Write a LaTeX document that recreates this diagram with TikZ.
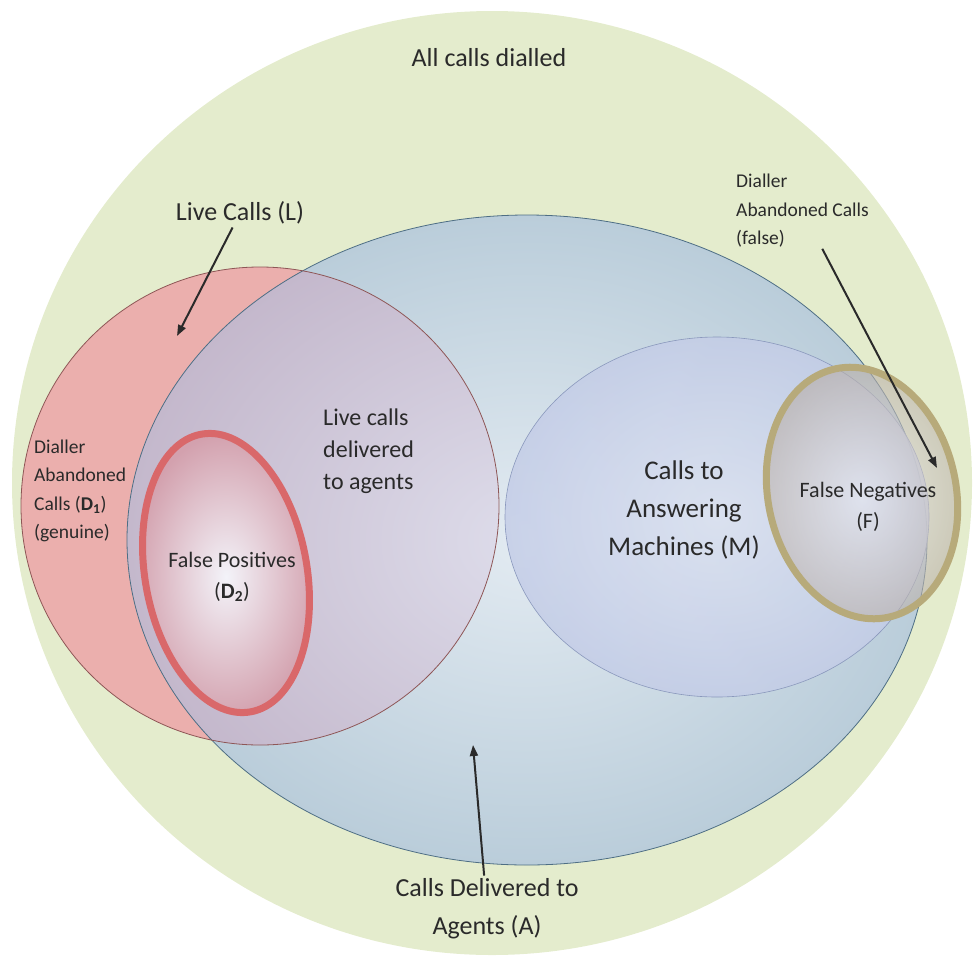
\documentclass[tikz,border=0pt]{standalone}
\usepackage{fontspec}
\setmainfont{Carlito}
\usetikzlibrary{arrows.meta}
\definecolor{dialled}{HTML}{E4ECCD}
\definecolor{live}{HTML}{EBAFAD}
\definecolor{liveline}{HTML}{8E5656}
\definecolor{agentout}{HTML}{BACDDA}
\definecolor{agentin}{HTML}{E3EBF2}
\definecolor{agentline}{HTML}{4E6E84}
\definecolor{lavout}{HTML}{C4B8CC}
\definecolor{lavin}{HTML}{DEDDEB}
\definecolor{machout}{HTML}{C4CDE7}
\definecolor{machin}{HTML}{DCE2F1}
\definecolor{machline}{HTML}{8A98BC}
\definecolor{fposline}{HTML}{D9686A}
\definecolor{fposout}{HTML}{D3A1AE}
\definecolor{fposin}{HTML}{F3F3F9}
\definecolor{fnegline}{HTML}{B7AA7A}
\definecolor{fnegout}{HTML}{B9AEA6}
\definecolor{fnegin}{HTML}{EDEDF2}
\definecolor{ink}{HTML}{2A2A2A}
\tikzset{>/.tip={Triangle[length=11pt,width=8pt]}}

\begin{document}
\begin{tikzpicture}[x=1pt, y=-1pt,
  big/.style={font=\fontsize{26}{38}\selectfont, text=ink, align=center, inner sep=3pt},
  mid/.style={font=\fontsize{24}{32}\selectfont, text=ink, align=left, inner sep=0pt},
  huge/.style={font=\fontsize{27}{38}\selectfont, text=ink, align=center, inner sep=0pt},
  midc/.style={font=\fontsize{22}{31}\selectfont, text=ink, align=center, inner sep=0pt},
  small/.style={font=\fontsize{19.5}{28.5}\selectfont, text=ink, align=left, inner sep=1pt},
  pointer/.style={->, line width=2pt, ink}]
\useasboundingbox (0,0) rectangle (976,961);

\fill[dialled] (492,483) ellipse [x radius=480, y radius=472];
\fill[live] (260,506) circle [radius=239];
\shade[inner color=agentin, outer color=agentout] (527,540) ellipse [x radius=400, y radius=325];
\begin{scope}
\clip (260,506) circle [radius=239];
\shade[inner color=lavin, outer color=lavout] (527,540) ellipse [x radius=400, y radius=325];
\end{scope}
\draw[agentline, line width=0.8pt] (527,540) ellipse [x radius=400, y radius=325];
\draw[liveline, line width=0.8pt] (260,506) circle [radius=239];
\shade[inner color=machin, outer color=machout, fill opacity=0.85] (717,517) ellipse [x radius=212, y radius=180];
\draw[machline, line width=0.6pt] (717,517) ellipse [x radius=212, y radius=180];
\shade[shift={(226,573)}, rotate=10, inner color=fposin, outer color=fposout] (0,0) ellipse [x radius=81, y radius=141];
\draw[shift={(226,573)}, rotate=10, fposline, line width=7pt] (0,0) ellipse [x radius=81, y radius=141];
\shade[shift={(862,493)}, rotate=12, inner color=fnegin, outer color=fnegout, fill opacity=0.6] (0,0) ellipse [x radius=94, y radius=127];
\draw[shift={(862,493)}, rotate=12, fnegline, line width=7pt] (0,0) ellipse [x radius=94, y radius=127];

\node[big] (all) at (489,58) {All calls dialled};
\node[big] (live) at (240,213) {Live Calls (L)};
\node[small, anchor=west] (genuine) at (33,491) {Dialler\\Abandoned\\Calls (\textbf{D\textsubscript{1}})\\(genuine)};
\node[small, anchor=west] (false) at (735,211) {Dialler\\Abandoned Calls\\(false)};
\node[mid, anchor=west] (delivered) at (323,451) {Live calls\\delivered\\to agents};
\node[huge] (machines) at (684,510) {Calls to\\Answering\\Machines (M)};
\node[midc] (fneg) at (868,507) {False Negatives\\(F)};
\node[midc] (fpos) at (232,577) {False Positives\\(\textbf{D\textsubscript{2}})};
\node[big] (agents) at (487,909) {Calls Delivered to\\Agents (A)};

\coordinate (liveend) at (177,336);
\coordinate (falseend) at (937,468);
\coordinate (agentsend) at (473,745);
\draw[pointer] (live) -- (liveend);
\draw[pointer] (false) -- (falseend);
\draw[pointer] (agents) -- (agentsend);
\end{tikzpicture}
\end{document}
